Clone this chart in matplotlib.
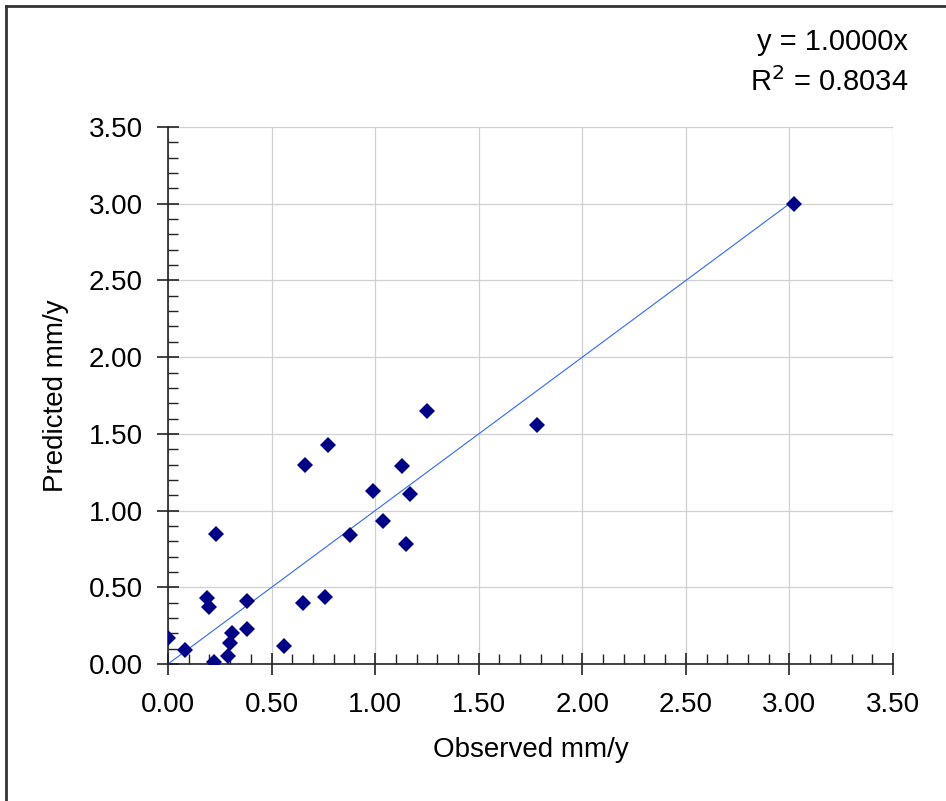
import matplotlib.pyplot as plt
from matplotlib.lines import Line2D
from matplotlib.ticker import MultipleLocator, FormatStrFormatter

plt.rcParams['font.family'] = ['Liberation Sans', 'DejaVu Sans']

# Observed vs predicted rates (mm/y)
observed = [0.00, 0.08, 0.23, 0.19, 0.20, 0.22, 0.29, 0.30, 0.31, 0.38,
            0.38, 0.56, 0.65, 0.76, 0.88, 1.25, 0.77, 0.66, 1.13, 0.99,
            1.17, 1.04, 1.15, 1.78, 3.02]
predicted = [0.17, 0.09, 0.85, 0.43, 0.37, 0.01, 0.05, 0.14, 0.20, 0.41,
             0.23, 0.12, 0.40, 0.44, 0.84, 1.65, 1.43, 1.30, 1.29, 1.13,
             1.11, 0.93, 0.78, 1.56, 3.00]
slope = 1.0
r_squared = 0.8034

fig = plt.figure(figsize=(9.46, 8.01), dpi=100)
ax = fig.add_axes([0.1776, 0.171, 0.7664, 0.6704])

# gridlines behind the data
ax.grid(True, which='major', color='#d0d0d0', linewidth=0.9)
ax.set_axisbelow(True)

# trendline through the origin
x_fit = [0, max(observed)]
y_fit = [slope * v for v in x_fit]
ax.plot(x_fit, y_fit, color='#3366ff', linewidth=0.8, zorder=2)

ax.plot(observed, predicted, linestyle='none', marker='D', markersize=8.5,
        color='#000088', markeredgewidth=0, zorder=3)

ax.set_xlim(0, 3.5)
ax.set_ylim(0, 3.5)
ax.xaxis.set_major_locator(MultipleLocator(0.5))
ax.yaxis.set_major_locator(MultipleLocator(0.5))
ax.xaxis.set_minor_locator(MultipleLocator(0.1))
ax.yaxis.set_minor_locator(MultipleLocator(0.1))
ax.xaxis.set_major_formatter(FormatStrFormatter('%.2f'))
ax.yaxis.set_major_formatter(FormatStrFormatter('%.2f'))

for side in ['top', 'right']:
    ax.spines[side].set_visible(False)
for side in ['left', 'bottom']:
    ax.spines[side].set_color('#222222')
    ax.spines[side].set_linewidth(1.2)

ax.tick_params(which='major', direction='inout', length=16, width=1.2,
               color='#222222', labelsize=20)
ax.tick_params(axis='x', which='major', pad=12)
ax.tick_params(axis='y', which='major', pad=10)
ax.tick_params(which='minor', direction='in', length=7, width=1.0,
               color='#222222')

ax.set_xlabel('Observed mm/y', fontsize=20, labelpad=14)
ax.set_ylabel('Predicted mm/y', fontsize=20, labelpad=14)

# regression equation in the top right
fig.text(0.96, 0.948, 'y = 1.0000x', fontsize=21, ha='right', va='center')
fig.text(0.96, 0.898, 'R$^2$ = 0.8034', fontsize=21, ha='right', va='center')

# chart area frame
fig.add_artist(Line2D([0.0063, 0.0063], [0.0, 0.9925], color='#333333',
                      linewidth=2.0, transform=fig.transFigure))
fig.add_artist(Line2D([0.0063, 1.0], [0.9925, 0.9925], color='#333333',
                      linewidth=2.0, transform=fig.transFigure))

fig.savefig('out.png', dpi=100)
